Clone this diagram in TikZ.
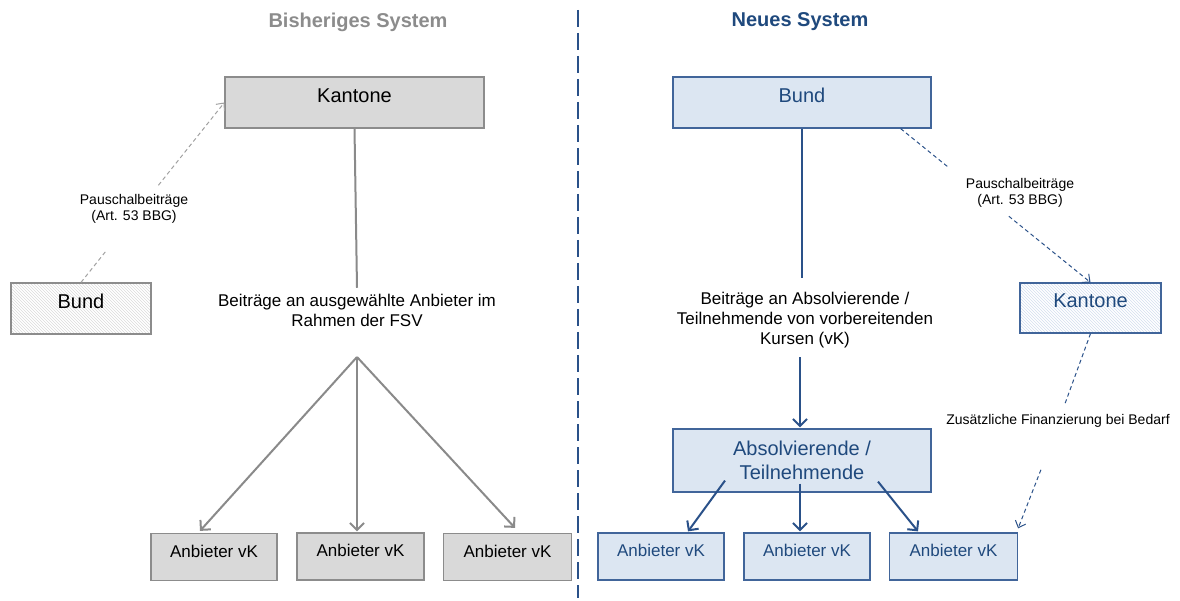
\documentclass[tikz,border=0pt]{standalone}
\usepackage{fontspec}
\setmainfont{Liberation Sans}
\usetikzlibrary{arrows.meta,patterns,calc}
\definecolor{gtitle}{HTML}{8C8C8C}
\definecolor{btitle}{HTML}{1F497D}
\definecolor{gline}{HTML}{8A8A8A}
\definecolor{gfill}{HTML}{D9D9D9}
\definecolor{gborder}{HTML}{8C8C8C}
\definecolor{bfill}{HTML}{DCE6F2}
\definecolor{bborder}{HTML}{41659A}
\definecolor{bline}{HTML}{2A5189}
\definecolor{btext}{HTML}{1F497D}
\definecolor{ghatch}{HTML}{DADADA}
\definecolor{bhatch}{HTML}{D3DEEE}
\tikzset{
  gbox/.style={draw=gborder, line width=1.2pt, fill=gfill, rectangle, inner sep=0pt,
    text height=8pt, text depth=8pt},
  bplain/.style={draw=bborder, line width=1.2pt, fill=bfill, rectangle, inner sep=0pt, text=btext},
  bbox/.style={bplain, text height=8pt, text depth=8pt},
  ghbox/.style={draw=gborder, line width=1.2pt, rectangle, inner sep=0pt,
    pattern=north west lines, pattern color=ghatch, text height=8pt, text depth=8pt},
  bhbox/.style={draw=bborder, line width=1.2pt, rectangle, inner sep=0pt,
    pattern=north west lines, pattern color=bhatch, text height=8pt, text depth=8pt, text=btext},
  bigtxt/.style={font=\fontsize{20}{24}\selectfont},
  midtxt/.style={font=\fontsize{17}{20}\selectfont},
  smalltxt/.style={font=\fontsize{14}{16}\selectfont, align=center, inner sep=0pt},
  gsolid/.style={draw=gline, line width=2pt},
  bsolid/.style={draw=bline, line width=2pt},
  garrow/.style={gsolid, -{Straight Barb[length=7pt,width=14pt,line width=2pt]}},
  barrow/.style={bsolid, -{Straight Barb[length=7pt,width=14pt,line width=2pt]}},
  gdash/.style={draw=gline!80, line width=1pt, dash pattern=on 4pt off 3pt},
  bdash/.style={draw=bline, line width=1pt, dash pattern=on 4pt off 3pt},
  dtip/.style={-{Straight Barb[length=6pt,width=11pt,line width=1pt]}},
  divider/.style={draw=bline, line width=2pt, dash pattern=on 17pt off 6pt},
}
\begin{document}
\begin{tikzpicture}[x=1pt,y=-1pt]
\useasboundingbox (0,0) rectangle (1180,601);

% titles
\node[font=\fontsize{20}{24}\selectfont\bfseries, text=gtitle] (tL) at (358,22) {Bisheriges System};
\node[font=\fontsize{20}{24}\selectfont\bfseries, text=btitle] (tR) at (800,22) {Neues System};

% divider
\coordinate (dvTop) at (578,10);
\coordinate (dvBot) at (578,598);
\draw[divider] (dvTop) -- (dvBot);

% ---------- left side ----------
\node[gbox, bigtxt, minimum width=259pt, minimum height=51pt] (kantL) at (354.5,102.5) {Kantone};
\node[ghbox, bigtxt, minimum width=140pt, minimum height=51pt] (bundL) at (81,308.5) {Bund};
\node[gbox, midtxt, minimum width=126pt, minimum height=47pt] (anbL1) at (214,557) {Anbieter vK};
\node[gbox, midtxt, minimum width=127pt, minimum height=47pt] (anbL2) at (360.5,556.5) {Anbieter vK};
\node[gbox, midtxt, minimum width=128pt, minimum height=47pt] (anbL3) at (507.5,557) {Anbieter vK};

\node[midtxt, align=center, inner sep=0pt, outer ysep=6pt] (lblL) at (357,310) {Beiträge an ausgewählte Anbieter im\\Rahmen der FSV};
\node[smalltxt] (pL) at (134,209) {Pauschalbeiträge\\(Art. 53 BBG)};

\draw[gsolid] (kantL.south) -- (lblL.north);
\coordinate (hubL) at (357,357);
\draw[garrow] (hubL) -- ([shift={(-14,-2)}]anbL1.north);
\draw[garrow] (hubL) -- ([shift={(-3.5,-1)}]anbL2.north);
\draw[garrow] (hubL) -- ([shift={(7.5,-5)}]anbL3.north);

\draw[gdash] (bundL.north) -- ($(bundL.north)!0.18!(kantL.west)$);
\draw[gdash, dtip] ($(bundL.north)!0.54!(kantL.west)$) -- (kantL.west);

% ---------- right side ----------
\node[bbox, bigtxt, minimum width=258pt, minimum height=51pt] (bundR) at (802,102.5) {Bund};
\node[bhbox, bigtxt, minimum width=141pt, minimum height=50pt] (kantR) at (1090.5,308) {Kantone};
\node[bplain, minimum width=258pt, minimum height=63pt, font=\fontsize{20}{24}\selectfont,
      align=center] (absR) at (802,460.5) {Absolvierende /\\Teilnehmende};
\node[bbox, midtxt, minimum width=126pt, minimum height=47pt] (anbR1) at (661,556.5) {Anbieter vK};
\node[bbox, midtxt, minimum width=126pt, minimum height=47pt] (anbR2) at (807,556.5) {Anbieter vK};
\node[bbox, midtxt, minimum width=128pt, minimum height=47pt] (anbR3) at (953.5,556.5) {Anbieter vK};

\node[midtxt, align=center, inner sep=0pt, outer ysep=14pt] (lblR) at (805,320) {Beiträge an Absolvierende /\\Teilnehmende von vorbereitenden\\Kursen (vK)};
\node[smalltxt] (pR) at (1020,193) {Pauschalbeiträge\\(Art. 53 BBG)};
\node[smalltxt] (zR) at (1058,421) {Zusätzliche Finanzierung bei Bedarf};

\draw[bsolid] (bundR.south) -- (bundR.south |- lblR.north);
\coordinate (hubR) at (800,357);
\draw[barrow] (hubR) -- ([shift={(-2,-1)}]absR.north);
\draw[barrow] ([shift={(-77,-12)}]absR.south) -- ([shift={(27,-1)}]anbR1.north);
\draw[barrow] ([shift={(-2,-9)}]absR.south) -- ([shift={(-7,-1)}]anbR2.north);
\draw[barrow] ([shift={(76,-11)}]absR.south) -- ([shift={(-35.5,-1)}]anbR3.north);

\coordinate (bR0) at ([shift={(-31,0)}]bundR.south east);
\draw[bdash] (bR0) -- ($(bR0)!0.25!(kantR.north)$);
\draw[bdash, dtip] ($(bR0)!0.57!(kantR.north)$) -- (kantR.north);

\draw[bdash] (kantR.south) -- ($(kantR.south)!0.36!(anbR3.north east)$);
\draw[bdash, dtip] ($(kantR.south)!0.685!(anbR3.north east)$) -- ([shift={(0,-4)}]anbR3.north east);
\end{tikzpicture}
\end{document}
